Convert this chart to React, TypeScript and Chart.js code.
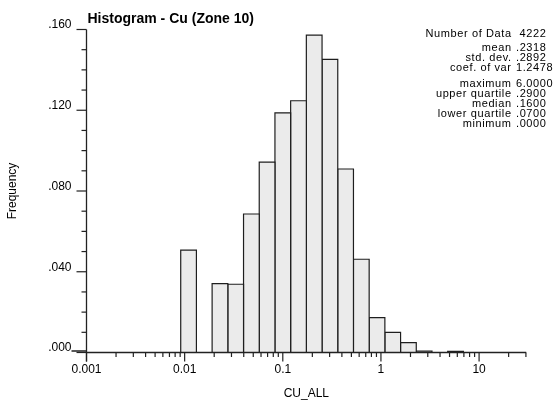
import React, { useEffect, useRef } from 'react';
import { Chart, registerables } from 'chart.js';

Chart.register(...registerables);

// Histogram bins (class limits, CU_ALL) and relative frequencies
const binLower = [0.00912, 0.01905, 0.02754, 0.03981, 0.05754, 0.08318, 0.12023, 0.17378, 0.25119, 0.36308, 0.52481, 0.75858, 1.09648, 1.58489, 2.29087, 4.7863];
const binUpper = [0.01318, 0.02754, 0.03981, 0.05754, 0.08318, 0.12023, 0.17378, 0.25119, 0.36308, 0.52481, 0.75858, 1.09648, 1.58489, 2.29087, 3.31131, 6.91831];
const frequency = [0.0507, 0.0341, 0.0338, 0.0686, 0.0943, 0.1187, 0.1247, 0.1572, 0.1452, 0.0909, 0.0462, 0.0173, 0.01, 0.0049, 0.0007, 0.0006];

// Axes
const xMin = 0.001;
const xMax = 30.2;
const xMajorTicks = [0.001, 0.01, 0.1, 1, 10];
const xTickLabels = ['0.001', '0.01', '0.1', '1', '10'];
const yMajorTicks = [0, 0.04, 0.08, 0.12, 0.16];
const yTickLabels = ['.000', '.040', '.080', '.120', '.160'];
const yMinorStep = 0.01;

// Texts
const chartTitle = 'Histogram - Cu (Zone 10)';
const xTitle = 'CU_ALL';
const yTitle = 'Frequency';
const statLabels = ['Number of Data', 'mean', 'std. dev.', 'coef. of var', 'maximum', 'upper quartile', 'median', 'lower quartile', 'minimum'];
const statValues = ['4222', '.2318', '.2892', '1.2478', '6.0000', '.2900', '.1600', '.0700', '.0000'];

const FONT = '"Liberation Sans", Arial, Helvetica, sans-serif';

export default function App() {
  const ref = useRef<HTMLCanvasElement>(null);

  useEffect(() => {
    const canvas = ref.current;
    if (!canvas) return;

    const datasets = frequency.map((f, i) => ({
      data: [
        { x: binLower[i], y: 0 },
        { x: binLower[i], y: f },
        { x: binUpper[i], y: f },
        { x: binUpper[i], y: 0 },
      ],
      borderColor: '#1e1e1e',
      borderWidth: 1.2,
      backgroundColor: '#ebebeb',
      fill: 'origin',
      pointRadius: 0,
      tension: 0,
    }));

    const gslibPlugin = {
      id: 'gslibAxes',
      afterDatasetsDraw(chart: any) {
        const ctx: CanvasRenderingContext2D = chart.ctx;
        const xs = chart.scales.x;
        const ys = chart.scales.y;
        const { left, right, top, bottom } = chart.chartArea;
        ctx.save();
        ctx.strokeStyle = '#222';
        ctx.lineWidth = 1.3;
        // axis lines
        ctx.beginPath();
        ctx.moveTo(left, top);
        ctx.lineTo(left, bottom + 9);
        ctx.moveTo(left - 15, bottom - 1.5);
        ctx.lineTo(left, bottom - 1.5);
        ctx.stroke();
        ctx.beginPath();
        ctx.moveTo(left, bottom);
        ctx.lineTo(right, bottom);
        ctx.stroke();
        // y ticks
        ctx.lineWidth = 1.2;
        const yMax = yMajorTicks[yMajorTicks.length - 1];
        const nMinor = Math.round(yMax / yMinorStep);
        for (let k = 0; k <= nMinor; k++) {
          const v = k * yMinorStep;
          const isMajor = yMajorTicks.some((m) => Math.abs(m - v) < 1e-9);
          const py = ys.getPixelForValue(v);
          ctx.beginPath();
          ctx.moveTo(left, py);
          ctx.lineTo(left - (isMajor ? 10 : 5), py);
          ctx.stroke();
        }
        // x ticks
        for (const m of xMajorTicks) {
          for (let k = 1; k <= 9; k++) {
            const v = m * k;
            if (v > xMax * 1.0001) break;
            const px = xs.getPixelForValue(v);
            ctx.beginPath();
            ctx.moveTo(px, bottom);
            ctx.lineTo(px, bottom + (k === 1 ? 9 : 4.5));
            ctx.stroke();
          }
        }
        ctx.restore();
      },
      afterDraw(chart: any) {
        const ctx: CanvasRenderingContext2D = chart.ctx;
        const { left, right, top, bottom } = chart.chartArea;
        ctx.save();
        ctx.fillStyle = '#000';
        // title
        ctx.font = `bold 14px ${FONT}`;
        ctx.textAlign = 'left';
        ctx.textBaseline = 'alphabetic';
        ctx.fillText(chartTitle, left + 1, 22.5);
        // stats
        ctx.font = `11px ${FONT}`;
        (ctx as any).letterSpacing = '0.6px';
        const baselines = [37, 51.2, 61.2, 71.2, 87, 97, 107, 117, 127];
        statLabels.forEach((lab, i) => {
          ctx.textAlign = 'right';
          ctx.fillText(lab, 511.6, baselines[i]);
          ctx.textAlign = 'left';
          ctx.fillText(statValues[i], i === 0 ? 519.5 : 516, baselines[i]);
        });
        (ctx as any).letterSpacing = '0px';
        // axis titles
        ctx.font = `12px ${FONT}`;
        ctx.textAlign = 'center';
        ctx.textBaseline = 'middle';
        ctx.fillText(xTitle, (left + right) / 2, 394);
        ctx.translate(13, (top + bottom) / 2);
        ctx.rotate(-Math.PI / 2);
        ctx.fillText(yTitle, 0, 0);
        ctx.restore();
      },
    };

    const chart = new Chart(canvas, {
      type: 'line',
      data: { datasets: datasets as any },
      options: {
        animation: false,
        responsive: false,
        maintainAspectRatio: false,
        layout: { padding: { top: 29.5, right: 30.8, left: 0, bottom: 0 } },
        plugins: { legend: { display: false }, tooltip: { enabled: false }, title: { display: false } },
        scales: {
          x: {
            type: 'logarithmic',
            min: xMin,
            max: xMax,
            border: { display: false },
            grid: { display: false, drawTicks: false },
            afterBuildTicks: (scale: any) => {
              scale.ticks = xMajorTicks.map((v) => ({ value: v }));
            },
            afterFit: (scale: any) => {
              scale.height = 406 - 352.5;
            },
            ticks: {
              autoSkip: false,
              maxRotation: 0,
              padding: 10.3,
              color: '#000',
              font: { family: FONT, size: 12 },
              callback: (value: any) => {
                const idx = xMajorTicks.findIndex((m) => Math.abs(m - Number(value)) / m < 1e-6);
                return idx >= 0 ? xTickLabels[idx] : '';
              },
            },
          },
          y: {
            type: 'linear',
            min: yMajorTicks[0],
            max: yMajorTicks[yMajorTicks.length - 1],
            border: { display: false },
            grid: { display: false, drawTicks: false },
            afterBuildTicks: (scale: any) => {
              scale.ticks = yMajorTicks.map((v) => ({ value: v }));
            },
            afterFit: (scale: any) => {
              scale.width = 86.5;
            },
            ticks: {
              autoSkip: false,
              padding: 15,
              labelOffset: -4.5,
              color: '#000',
              font: { family: FONT, size: 12 },
              callback: (value: any) => {
                const idx = yMajorTicks.findIndex((m) => Math.abs(m - Number(value)) < 1e-9);
                return idx >= 0 ? yTickLabels[idx] : '';
              },
            },
          },
        },
      },
      plugins: [gslibPlugin],
    });

    return () => chart.destroy();
  }, []);

  return (
    <div style={{ position: 'fixed', left: 0, top: 0, width: 557, height: 406, background: '#fff' }}>
      <canvas ref={ref} width={557} height={406} style={{ display: 'block', width: 557, height: 406 }} />
    </div>
  );
}
